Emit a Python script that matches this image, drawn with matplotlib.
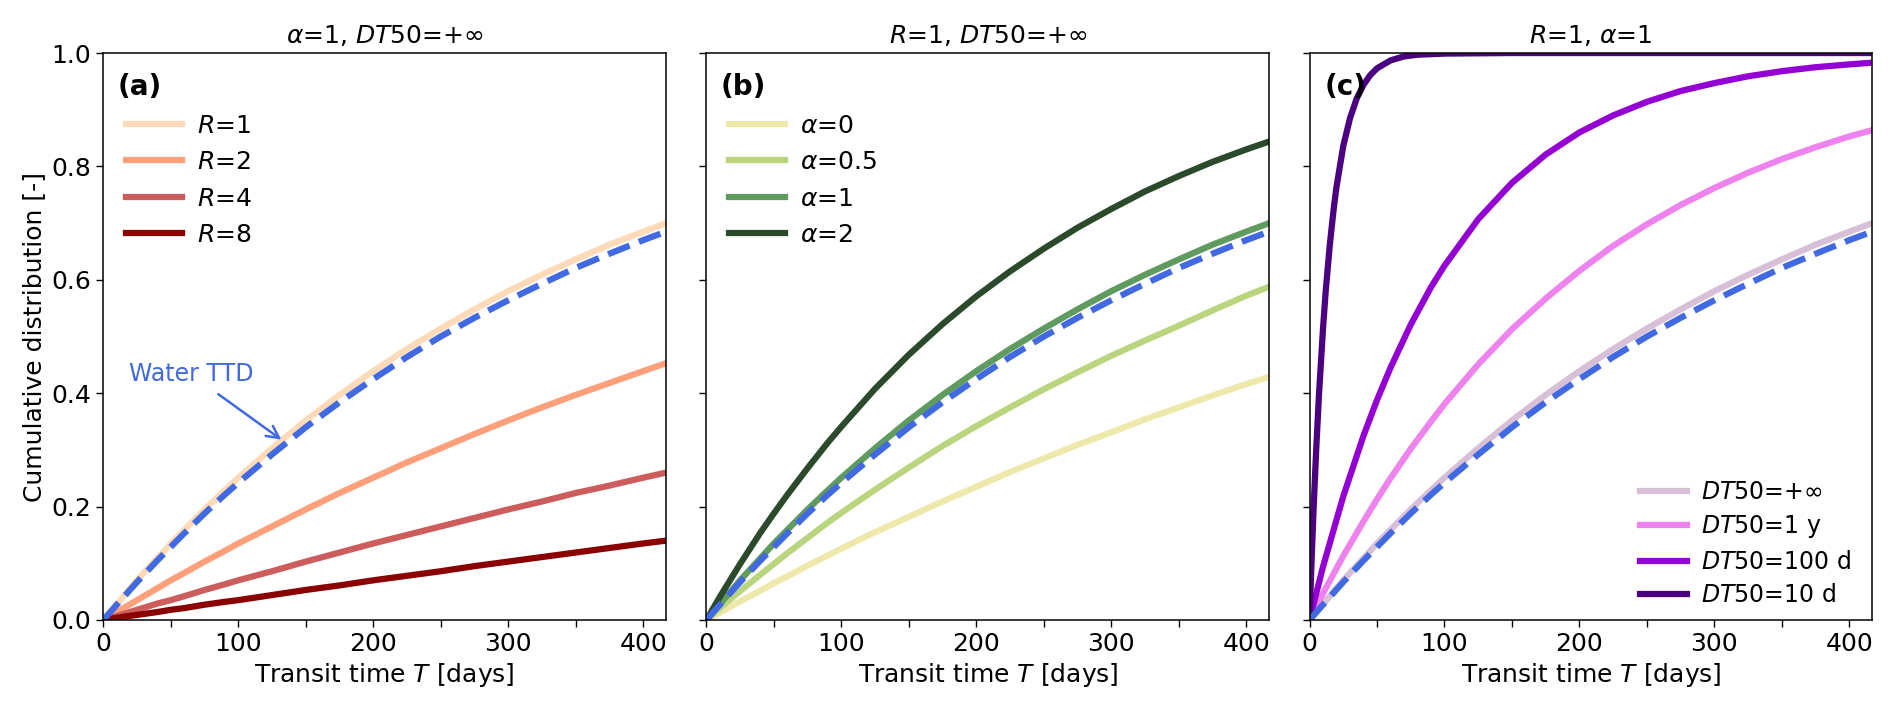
import numpy as np
import matplotlib
matplotlib.use("Agg")
import matplotlib.pyplot as plt
from matplotlib.ticker import MultipleLocator

# transit time grid [days]
t_days = [0, 10, 25, 40, 50, 60, 75, 90, 100, 125, 150, 175, 200, 225, 250, 275,
          300, 325, 350, 375, 400, 417]
# denser grid for the fast decaying curve (DT50 = 10 d)
t_fast = [0, 1, 2, 3, 5, 7, 10, 12, 15, 18, 20, 25, 30, 35, 40, 45, 50, 60, 70, 80,
          100, 150, 200, 300, 417]

# water TTD (blue dashed, same in all panels)
water_ttd = [0, 0.027, 0.067, 0.105, 0.129, 0.153, 0.188, 0.221, 0.242, 0.292, 0.340,
             0.384, 0.425, 0.464, 0.500, 0.533, 0.564, 0.593, 0.621, 0.646, 0.670, 0.685]

# R=1, alpha=1, DT50=+inf (same curve in the three panels)
ref_curve = [0, 0.028, 0.070, 0.109, 0.135, 0.159, 0.195, 0.229, 0.251, 0.303, 0.352,
             0.397, 0.439, 0.478, 0.514, 0.548, 0.580, 0.609, 0.636, 0.662, 0.685, 0.700]

# panel (a): retardation factor R
r2 = [0, 0.014, 0.035, 0.056, 0.070, 0.083, 0.103, 0.122, 0.135, 0.165, 0.195,
      0.224, 0.251, 0.278, 0.303, 0.328, 0.352, 0.375, 0.397, 0.418, 0.439, 0.453]
r4 = [0, 0.007, 0.018, 0.029, 0.035, 0.042, 0.053, 0.063, 0.070, 0.086, 0.103,
      0.119, 0.135, 0.150, 0.165, 0.180, 0.195, 0.209, 0.224, 0.237, 0.251, 0.260]
r8 = [0, 0.004, 0.009, 0.014, 0.018, 0.021, 0.027, 0.032, 0.035, 0.044, 0.053,
      0.061, 0.070, 0.078, 0.086, 0.095, 0.103, 0.111, 0.119, 0.127, 0.135, 0.140]

# panel (b): alpha
a0 = [0, 0.013, 0.033, 0.052, 0.065, 0.077, 0.096, 0.114, 0.126, 0.155, 0.182,
      0.209, 0.235, 0.261, 0.285, 0.309, 0.331, 0.354, 0.375, 0.396, 0.416, 0.429]
a05 = [0, 0.021, 0.051, 0.080, 0.099, 0.118, 0.145, 0.172, 0.189, 0.230, 0.269,
       0.307, 0.342, 0.375, 0.407, 0.437, 0.466, 0.493, 0.519, 0.546, 0.572, 0.588]
a2 = [0, 0.041, 0.099, 0.154, 0.188, 0.221, 0.268, 0.313, 0.341, 0.408, 0.468,
      0.522, 0.571, 0.615, 0.655, 0.692, 0.725, 0.756, 0.783, 0.808, 0.830, 0.844]

# panel (c): half-life DT50
dt_1y = [0, 0.047, 0.113, 0.174, 0.213, 0.250, 0.302, 0.350, 0.381, 0.451, 0.513,
         0.567, 0.616, 0.660, 0.698, 0.732, 0.762, 0.789, 0.813, 0.834, 0.853, 0.864]
dt_100d = [0, 0.094, 0.218, 0.325, 0.388, 0.445, 0.521, 0.587, 0.625, 0.707, 0.771,
           0.821, 0.860, 0.890, 0.914, 0.933, 0.947, 0.959, 0.968, 0.975, 0.980, 0.983]
dt_10d = [0, 0.070, 0.134, 0.195, 0.303, 0.397, 0.514, 0.580, 0.661, 0.727, 0.764,
          0.836, 0.885, 0.920, 0.944, 0.961, 0.973, 0.987, 0.994, 0.997,
          0.999, 1.0, 1.0, 1.0, 1.0]

lw = 4.5
fs = 18

fig, axes = plt.subplots(1, 3, figsize=(18.92, 7.08), dpi=100, sharey=True)
plt.subplots_adjust(left=0.0546, right=0.9896, bottom=0.1243, top=0.9251, wspace=0.0716)

# (a)
ax = axes[0]
ax.plot(t_days, ref_curve, color="#FFDAB9", lw=lw, label=r"$R$=1")
ax.plot(t_days, r2, color="#FFA07A", lw=lw, label=r"$R$=2")
ax.plot(t_days, r4, color="#CD5C5C", lw=lw, label=r"$R$=4")
ax.plot(t_days, r8, color="#8B0000", lw=lw, label=r"$R$=8")
ax.plot(t_days, water_ttd, color="royalblue", lw=lw, ls="--")
ax.annotate("Water TTD", xy=(132, 0.318), xytext=(65, 0.433), ha="center", va="center",
            color="royalblue", fontsize=17,
            arrowprops=dict(arrowstyle="->", color="royalblue", lw=1.8, mutation_scale=22,
                            shrinkA=6, shrinkB=0))
ax.set_title(r"$\alpha$=1, $DT$50=+$\infty$", fontsize=fs, pad=7)
ax.set_ylabel("Cumulative distribution [-]", fontsize=fs)

# (b)
ax = axes[1]
ax.plot(t_days, a0, color="#EEE8AA", lw=lw, label=r"$\alpha$=0")
ax.plot(t_days, a05, color="#B9D67F", lw=lw, label=r"$\alpha$=0.5")
ax.plot(t_days, ref_curve, color="#5F9A5F", lw=lw, label=r"$\alpha$=1")
ax.plot(t_days, a2, color="#2B4A2B", lw=lw, label=r"$\alpha$=2")
ax.plot(t_days, water_ttd, color="royalblue", lw=lw, ls="--")
ax.set_title(r"$R$=1, $DT$50=+$\infty$", fontsize=fs, pad=7)

# (c)
ax = axes[2]
ax.plot(t_days, ref_curve, color="#D8BFD8", lw=lw, label=r"$DT$50=+$\infty$")
ax.plot(t_days, dt_1y, color="#EE82EE", lw=lw, label=r"$DT$50=1 y")
ax.plot(t_days, dt_100d, color="#9400D3", lw=lw, label=r"$DT$50=100 d")
ax.plot(t_fast, dt_10d, color="#4B0082", lw=lw, label=r"$DT$50=10 d")
ax.plot(t_days, water_ttd, color="royalblue", lw=lw, ls="--")
ax.set_title(r"$R$=1, $\alpha$=1", fontsize=fs, pad=7)

for i, ax in enumerate(axes):
    ax.set_xlim(0, 417)
    ax.set_ylim(0, 1)
    ax.xaxis.set_major_locator(MultipleLocator(100))
    ax.xaxis.set_minor_locator(MultipleLocator(50))
    ax.yaxis.set_major_locator(MultipleLocator(0.2))
    ax.tick_params(which="both", labelsize=fs, length=5, width=1)
    ax.set_xlabel(r"Transit time $T$ [days]", fontsize=fs)
    ax.text(0.026, 0.965, "(" + "abc"[i] + ")", transform=ax.transAxes,
            fontsize=20, fontweight="bold", va="top", ha="left")
    for sp in ax.spines.values():
        sp.set_linewidth(1.1)

leg_kw = dict(frameon=False, fontsize=18, handlelength=2.25, handletextpad=0.6)
axes[0].legend(loc="upper left", bbox_to_anchor=(0.0, 0.933), **leg_kw)
axes[1].legend(loc="upper left", bbox_to_anchor=(0.0, 0.933), **leg_kw)
axes[2].legend(loc="lower right", bbox_to_anchor=(1.0, -0.015), frameon=False, fontsize=17,
               handlelength=2.0, handletextpad=0.6, labelspacing=0.4)

plt.savefig("out.png", dpi=100)
